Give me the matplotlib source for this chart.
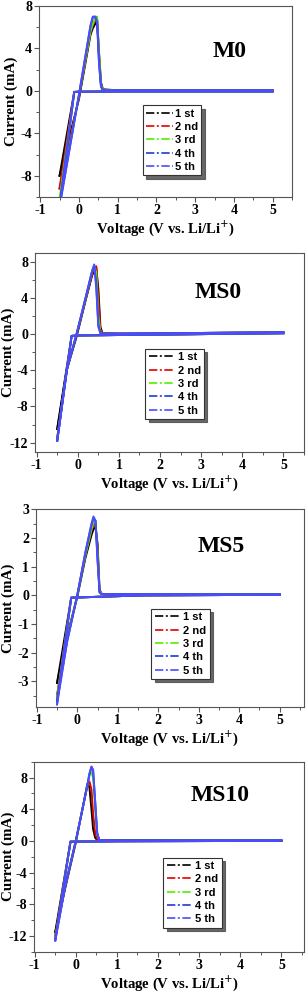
import matplotlib
matplotlib.use("Agg")
import matplotlib.pyplot as plt
from matplotlib.lines import Line2D
from matplotlib.ticker import MultipleLocator

plt.rcParams["axes.unicode_minus"] = False

CYCLES = ["1 st", "2 nd", "3 rd", "4 th", "5 th"]
COLORS = ["#000000", "#e00000", "#55ee00", "#1e3cd8", "#4b4bff"]

# ---------------- M0 ----------------
M0_V_UP = [-0.5, 0.0, 0.30, 0.36, 0.42, 0.47, 0.52, 0.57, 0.62, 1.0, 5.0]
M0_I_UP = [
    [-8.0, -0.8, 5.3, 5.9, 6.3, 6.6, 3.6, 0.8, 0.15, 0.05, 0.05],
    [-9.2, -0.6, 5.5, 6.2, 6.6, 6.8, 3.2, 0.6, 0.10, 0.05, 0.05],
    [-10.2, -0.5, 5.6, 6.3, 6.9, 7.0, 3.5, 0.6, 0.10, 0.05, 0.05],
    [-10.8, -0.4, 6.1, 6.95, 7.0, 6.5, 2.7, 0.4, 0.05, 0.05, 0.05],
    [-11.0, -0.4, 6.2, 7.0, 7.0, 6.4, 2.5, 0.4, 0.05, 0.05, 0.05],
]
M0_V_DOWN = [5.0, 1.0, 0.0, -0.12, -0.5]
M0_I_DOWN = [
    [-0.05, -0.05, -0.08, -0.10, -8.0],
    [-0.05, -0.05, -0.08, -0.10, -9.2],
    [-0.05, -0.05, -0.08, -0.10, -10.2],
    [-0.05, -0.05, -0.08, -0.10, -10.8],
    [-0.05, -0.05, -0.08, -0.10, -11.0],
]

# ---------------- MS0 ----------------
MS0_V_UP = [-0.5, -0.27, -0.03, 0.20, 0.35, 0.40, 0.45, 0.50, 0.55, 0.60, 1.0, 5.0]
MS0_I_UP = [
    [-10.5, -4.0, -0.3, 3.9, 6.5, 7.0, 7.3, 5.0, 0.8, 0.10, 0.05, 0.2],
    [-11.5, -4.0, -0.1, 4.0, 6.7, 7.2, 7.5, 4.0, 0.5, 0.10, 0.05, 0.2],
    [-11.7, -4.0, 0.0, 4.1, 6.9, 7.5, 6.8, 2.0, 0.2, 0.05, 0.05, 0.2],
    [-11.8, -4.0, 0.0, 4.2, 7.0, 7.6, 5.5, 1.0, 0.1, 0.05, 0.05, 0.2],
    [-11.8, -4.0, 0.0, 4.2, 7.0, 7.7, 5.0, 0.8, 0.1, 0.05, 0.05, 0.2],
]
MS0_V_DOWN = [5.0, 1.0, 0.0, -0.15, -0.5]
MS0_I_DOWN = [
    [0.10, -0.10, -0.15, -0.20, -10.5],
    [0.10, -0.10, -0.15, -0.20, -11.5],
    [0.10, -0.10, -0.15, -0.20, -11.7],
    [0.10, -0.10, -0.15, -0.20, -11.8],
    [0.10, -0.10, -0.15, -0.20, -11.8],
]

# ---------------- MS5 ----------------
MS5_V_UP = [-0.5, -0.25, 0.0, 0.2, 0.35, 0.40, 0.45, 0.50, 0.55, 0.60, 1.0, 5.0]
MS5_I_UP = [
    [-3.05, -1.4, -0.05, 1.3, 2.1, 2.3, 2.4, 1.8, 0.20, 0.05, 0.04, 0.03],
    [-3.5, -1.5, 0.0, 1.4, 2.25, 2.45, 2.5, 1.6, 0.15, 0.05, 0.04, 0.03],
    [-3.6, -1.5, 0.0, 1.4, 2.3, 2.55, 2.6, 1.5, 0.15, 0.05, 0.04, 0.03],
    [-3.7, -1.6, 0.0, 1.5, 2.45, 2.7, 2.6, 1.3, 0.10, 0.05, 0.04, 0.03],
    [-3.8, -1.6, 0.0, 1.5, 2.5, 2.75, 2.6, 1.2, 0.10, 0.05, 0.04, 0.03],
]
MS5_V_DOWN = [5.0, 1.6, -0.15, -0.5]
MS5_I_DOWN = [
    [0.02, 0.0, -0.08, -3.05],
    [0.02, 0.0, -0.08, -3.5],
    [0.02, 0.0, -0.08, -3.6],
    [0.02, 0.0, -0.08, -3.7],
    [0.02, 0.0, -0.08, -3.8],
]

# ---------------- MS10 ----------------
MS10_V_UP = [-0.5, -0.25, 0.0, 0.2, 0.28, 0.33, 0.38, 0.42, 0.47, 0.52, 0.57, 1.0, 5.0]
MS10_I_UP = [
    [-11.5, -5.8, -0.2, 5.0, 7.2, 6.8, 4.0, 1.5, 0.4, 0.1, 0.1, 0.1, 0.05],
    [-12.0, -5.6, 0.0, 5.0, 6.9, 7.5, 6.5, 3.5, 1.0, 0.2, 0.1, 0.05, 0.05],
    [-12.3, -5.5, 0.0, 5.0, 7.0, 8.2, 8.7, 8.0, 4.0, 0.8, 0.1, 0.05, 0.05],
    [-12.5, -5.5, 0.0, 5.0, 7.0, 8.4, 9.3, 8.9, 5.0, 1.0, 0.1, 0.05, 0.05],
    [-12.6, -5.5, 0.0, 5.0, 7.0, 8.5, 9.4, 9.0, 5.0, 1.0, 0.1, 0.05, 0.05],
]
MS10_V_DOWN = [5.0, 1.0, -0.13, -0.5]
MS10_I_DOWN = [
    [0.0, -0.05, -0.10, -11.5],
    [0.0, -0.05, -0.10, -12.0],
    [0.0, -0.05, -0.10, -12.3],
    [0.0, -0.05, -0.10, -12.5],
    [0.0, -0.05, -0.10, -12.6],
]

PANELS = [
    dict(name="M0", vu=M0_V_UP, iu=M0_I_UP, vd=M0_V_DOWN, idn=M0_I_DOWN,
         rect=(39, 6, 292, 197), xlim=(-1.03, 5.5), ylim=(-10, 8), ymaj=4, ymin=2,
         title_xy=(0.755, 0.76), leg=(0.41, 0.48), ylab_px=18.5),
    dict(name="MS0", vu=MS0_V_UP, iu=MS0_I_UP, vd=MS0_V_DOWN, idn=MS0_I_DOWN,
         rect=(35, 252.7, 304, 451.7), xlim=(-1.04, 5.5), ylim=(-13, 9), ymaj=4, ymin=2,
         title_xy=(0.68, 0.80), leg=(0.41, 0.516), ylab_px=15),
    dict(name="MS5", vu=MS5_V_UP, iu=MS5_I_UP, vd=MS5_V_DOWN, idn=MS5_I_DOWN,
         rect=(36, 509.3, 304, 706.7), xlim=(-1.02, 5.6), ylim=(-3.88, 3), ymaj=1, ymin=0.5,
         title_xy=(0.69, 0.81), leg=(0.43, 0.495), ylab_px=15),
    dict(name="MS10", vu=MS10_V_UP, iu=MS10_I_UP, vd=MS10_V_DOWN, idn=MS10_I_DOWN,
         rect=(34.3, 761.7, 304, 951.7), xlim=(-1.01, 5.55), ylim=(-14, 10), ymaj=4, ymin=2,
         title_xy=(0.69, 0.82), leg=(0.478, 0.495), ylab_px=15),
]

W, H = 306, 992
fig = plt.figure(figsize=(W / 100, H / 100), dpi=100)
SERIF = ["Liberation Serif", "DejaVu Serif"]
SANS = ["Liberation Sans", "DejaVu Sans"]
SPINE = "#555555"

for p in PANELS:
    l, t, r, b = p["rect"]
    ax = fig.add_axes([l / W, (H - b) / H, (r - l) / W, (b - t) / H])
    for k in range(5):
        ax.plot(p["vu"], p["iu"][k], color=COLORS[k], lw=1.4, solid_joinstyle="round")
        ax.plot(p["vd"], p["idn"][k], color=COLORS[k], lw=1.4, solid_joinstyle="round")
    ax.set_xlim(*p["xlim"])
    ax.set_ylim(*p["ylim"])
    ax.xaxis.set_major_locator(MultipleLocator(1))
    ax.xaxis.set_minor_locator(MultipleLocator(0.5))
    ax.yaxis.set_major_locator(MultipleLocator(p["ymaj"]))
    ax.yaxis.set_minor_locator(MultipleLocator(p["ymin"]))
    ax.tick_params(which="major", direction="out", length=3.5, width=0.8, color=SPINE,
                   labelsize=10, pad=1.5)
    ax.tick_params(which="minor", direction="out", length=2, width=0.7, color=SPINE)
    for lab in ax.get_xticklabels() + ax.get_yticklabels():
        lab.set_fontfamily(SERIF)
        lab.set_fontweight("bold")
    for s in ax.spines.values():
        s.set_color(SPINE)
        s.set_linewidth(0.8)
    ax.set_xlabel("Voltage (V vs. Li/Li$^{+}$)", fontsize=10.6, fontweight="bold",
                  family=SERIF, labelpad=1)
    ax.set_ylabel("Current (mA)", fontsize=10.8, fontweight="bold", family=SERIF)
    ax.yaxis.set_label_coords((p["ylab_px"] - l) / (r - l), 0.5)
    ax.text(p["title_xy"][0], p["title_xy"][1], p["name"], transform=ax.transAxes,
            fontsize=17, fontweight="bold", family=SERIF, ha="center", va="center")
    handles = [Line2D([], [], color=COLORS[k], lw=1.2, ls=(0, (5, 1.5, 1.2, 1.5)))
               for k in range(5)]
    leg = ax.legend(handles, CYCLES, loc="upper left", bbox_to_anchor=p["leg"],
                    prop=dict(family=SANS, weight="bold", size=8), frameon=True,
                    fancybox=False, shadow={"alpha": 0.85, "ox": 2.5, "oy": -2.5},
                    handlelength=2.4, handletextpad=0.2,
                    labelspacing=0.3, borderpad=0.3, borderaxespad=0)
    leg.get_frame().set_edgecolor("#333333")
    leg.get_frame().set_linewidth(0.8)

fig.savefig("out.png", dpi=100)
